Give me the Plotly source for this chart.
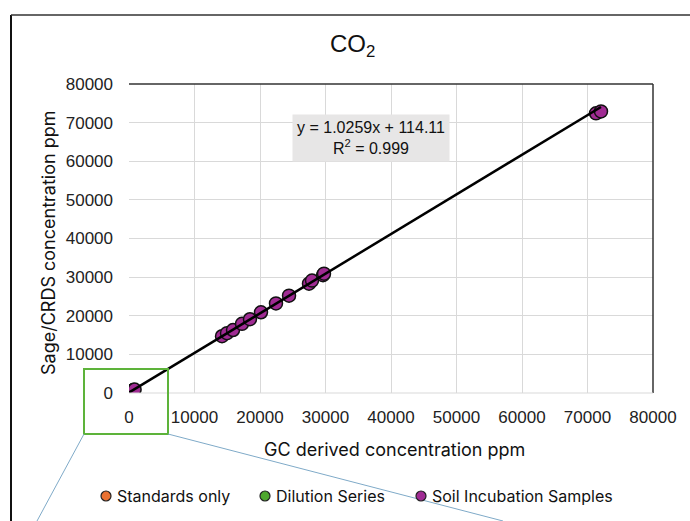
import plotly.graph_objects as go

# ---- data ----
std_x = [100, 300, 550]
std_y = [150, 350, 600]
dil_x = [200, 450, 700]
dil_y = [250, 500, 750]
soil_x = [50, 250, 450, 650, 850,
          14200, 14960, 15880, 17250, 18470, 20150, 22440, 24430,
          27480, 27940, 29620, 29770, 71300, 72060]
soil_y = [150, 350, 550, 700, 900,
          14700, 15500, 16300, 17900, 19100, 20900, 23200, 25200,
          28300, 29100, 30500, 30900, 72400, 72900]
slope = 1.0259
intercept = 114.11
r2 = 0.999
x_ticks = [0, 10000, 20000, 30000, 40000, 50000, 60000, 70000, 80000]
y_ticks = [0, 10000, 20000, 30000, 40000, 50000, 60000, 70000, 80000]
legend_names = ["Standards only", "Dilution Series", "Soil Incubation Samples"]

W, H = 690, 521
L, R, T, B = 129, 653, 84, 393


def pxx(x):
    return (x - L) / (R - L)


def pxy(y):
    return (B - y) / (B - T)


purple = "#A02B93"
orange = "#E97132"
green = "#4EA72E"
colors = [orange, green, purple]

fig = go.Figure()
mk = dict(size=13, line=dict(color="#111111", width=1.5))
for xs, ys, name, col in zip([std_x, dil_x, soil_x], [std_y, dil_y, soil_y], legend_names, colors):
    fig.add_trace(go.Scatter(x=xs, y=ys, mode="markers", name=name, showlegend=False,
                             marker=dict(color=col, **mk)))
allx = std_x + dil_x + soil_x
lx = [min(allx), max(allx)]
ly = [slope * v + intercept for v in lx]
fig.add_trace(go.Scatter(x=lx, y=ly, mode="lines", showlegend=False,
                         line=dict(color="black", width=2.5), hoverinfo="skip"))

tickfont = dict(family="Liberation Sans, Arial", size=17, color="#222222")
fig.update_xaxes(range=[0, 80000], tickvals=x_ticks, ticktext=[str(v) for v in x_ticks],
                 showgrid=True, gridcolor="#D9D9D9", gridwidth=1, zeroline=False,
                 showline=False, tickfont=tickfont, ticks="", ticklabelstandoff=12)
fig.update_yaxes(range=[0, 80000], tickvals=y_ticks, ticktext=[str(v) for v in y_ticks],
                 showgrid=True, gridcolor="#D9D9D9", gridwidth=1, zeroline=False,
                 showline=False, tickfont=tickfont, ticks="", ticklabelstandoff=15)

shapes = [
    # plot area top and right borders
    dict(type="line", xref="paper", yref="paper", x0=0, x1=1, y0=1, y1=1,
         line=dict(color="#333333", width=1.5)),
    dict(type="line", xref="paper", yref="paper", x0=1, x1=1, y0=0, y1=1,
         line=dict(color="#333333", width=1.5)),
    dict(type="line", xref="paper", yref="paper", x0=0, x1=1, y0=0, y1=0,
         line=dict(color="#D9D9D9", width=1)),
    # outer frame
    dict(type="line", xref="paper", yref="paper", x0=pxx(11), x1=pxx(11), y0=pxy(15), y1=pxy(522),
         line=dict(color="#111111", width=2)),
    dict(type="line", xref="paper", yref="paper", x0=pxx(11), x1=pxx(691), y0=pxy(15), y1=pxy(15),
         line=dict(color="#333333", width=1.5)),
    # zoom callout
    dict(type="rect", xref="paper", yref="paper", x0=pxx(84), x1=pxx(168), y0=pxy(434), y1=pxy(369),
         line=dict(color="#5DB33A", width=2)),
    dict(type="line", xref="paper", yref="paper", x0=pxx(84), x1=pxx(37), y0=pxy(434), y1=pxy(521),
         line=dict(color="#7FAAC8", width=1)),
    dict(type="line", xref="paper", yref="paper", x0=pxx(168), x1=pxx(503), y0=pxy(434), y1=pxy(521),
         line=dict(color="#7FAAC8", width=1)),
]

annotations = [
    dict(text="CO<sub>2</sub>", xref="paper", yref="paper", x=pxx(352), y=pxy(46),
         xanchor="center", yanchor="middle",
         showarrow=False, font=dict(family="Liberation Sans, Arial", size=24, color="#111111")),
    dict(text="GC derived concentration ppm", xref="paper", yref="paper", x=pxx(394), y=pxy(449),
         xanchor="center", yanchor="middle",
         showarrow=False, font=dict(family="Inter", size=18, color="#111111")),
    dict(text="Sage/CRDS concentration ppm", xref="paper", yref="paper", x=pxx(48), y=pxy(243),
         xanchor="center", yanchor="middle",
         textangle=-90, showarrow=False, font=dict(family="Inter", size=18, color="#111111")),
    dict(text=f"y = {slope}x + {intercept}<br>R<sup>2</sup> = {r2}", xref="paper", yref="paper",
         x=pxx(371), y=pxy(138), xanchor="center", yanchor="middle",
         showarrow=False, bgcolor="#E7E6E6", borderpad=4,
         font=dict(family="Liberation Sans, Arial", size=16, color="#111111")),
]

# legend drawn as symbols + real text
leg_marker_x = [106, 265, 421]
leg_y = 496
for name, col, mx in zip(legend_names, colors, leg_marker_x):
    shapes.append(dict(type="circle", xref="paper", yref="paper",
                       xsizemode="pixel", ysizemode="pixel",
                       xanchor=pxx(mx), yanchor=pxy(leg_y),
                       x0=-5, x1=5, y0=-5, y1=5,
                       fillcolor=col, line=dict(color="#222222", width=1.2)))
    annotations.append(dict(text=name, xref="paper", yref="paper", x=pxx(mx + 9), y=pxy(leg_y),
                            xanchor="left", yanchor="middle", showarrow=False,
                            font=dict(family="Inter", size=16, color="#111111")))

fig.update_layout(
    width=W, height=H,
    margin=dict(l=L, r=W - R, t=T, b=H - B),
    plot_bgcolor="white", paper_bgcolor="white",
    shapes=shapes, annotations=annotations,
    showlegend=False,
)

fig.write_html("out.html")
